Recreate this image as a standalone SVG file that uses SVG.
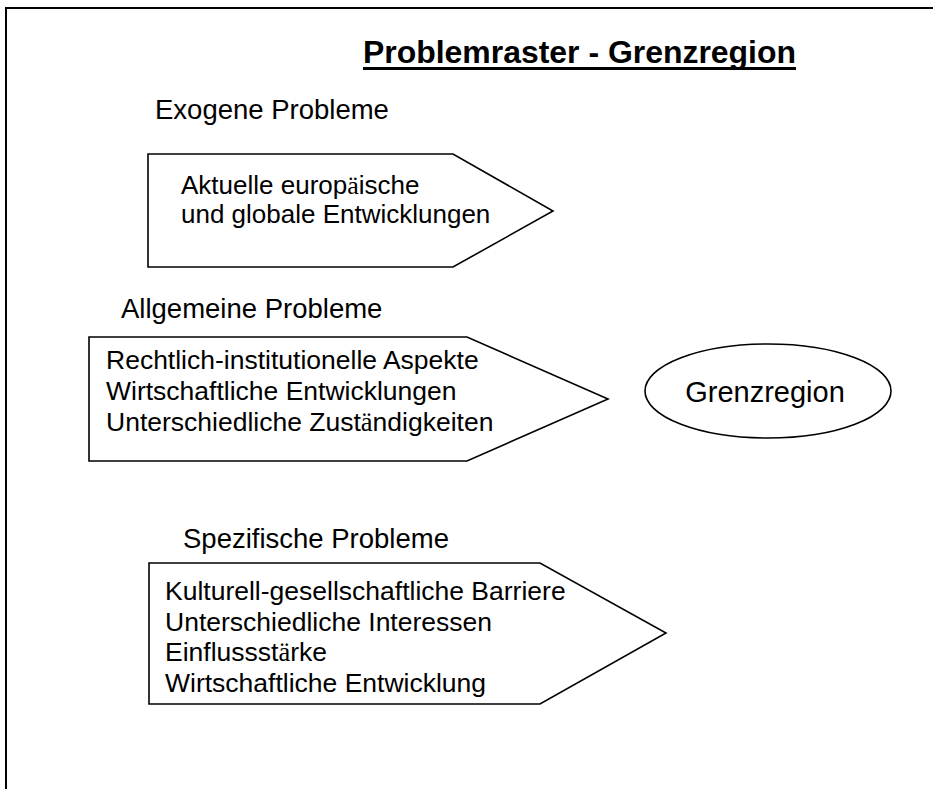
<svg xmlns="http://www.w3.org/2000/svg" width="933" height="789" viewBox="0 0 933 789">
  <style>
    .shape { fill: #ffffff; stroke: #000000; stroke-width: 1.6; }
    .frame { fill: none; stroke: #000000; stroke-width: 2; }
    .head { font-family: "Liberation Sans", Arial, sans-serif; font-size: 27.5px; fill: #000000; }
    .item { font-family: "Liberation Sans", Arial, sans-serif; font-size: 26px; fill: #000000; }
    .item-l { font-family: "Liberation Sans", Arial, sans-serif; font-size: 26.5px; fill: #000000; }
    .title { font-family: "Liberation Sans", Arial, sans-serif; font-size: 32px; font-weight: bold; fill: #000000; }
    .uml { font-family: "Liberation Serif", "Times New Roman", serif; }
  </style>
  <rect width="933" height="789" fill="#ffffff"/>

  <!-- page frame: top and left edges -->
  <path class="frame" d="M6,789 V8 H933"/>

  <!-- title -->
  <g id="title">
    <text class="title" x="363" y="63" textLength="433" lengthAdjust="spacingAndGlyphs">Problemraster - Grenzregion</text>
    <rect x="363" y="67" width="433" height="3" fill="#000000"/>
  </g>

  <!-- exogenous problems -->
  <g id="exogen">
    <text class="head" x="155" y="119">Exogene Probleme</text>
    <polygon class="shape" points="148,154 453,154 553,211 453,267 148,267"/>
    <text class="item" x="181" y="194">Aktuelle europ<tspan class="uml">ä</tspan>ische</text>
    <text class="item" x="181" y="223">und globale Entwicklungen</text>
  </g>

  <!-- general problems -->
  <g id="allgemein">
    <text class="head" x="121" y="318">Allgemeine Probleme</text>
    <polygon class="shape" points="89,337 467,337 608,399 467,461 89,461"/>
    <text class="item-l" x="106" y="369">Rechtlich-institutionelle Aspekte</text>
    <text class="item-l" x="106" y="400">Wirtschaftliche Entwicklungen</text>
    <text class="item-l" x="106" y="431">Unterschiedliche Zust<tspan class="uml">ä</tspan>ndigkeiten</text>
  </g>

  <!-- border region -->
  <g id="grenzregion">
    <ellipse class="shape" cx="768" cy="391" rx="123" ry="47"/>
    <text class="item" x="765" y="402" text-anchor="middle" style="font-size:29px">Grenzregion</text>
  </g>

  <!-- specific problems -->
  <g id="spezifisch">
    <text class="head" x="183" y="548">Spezifische Probleme</text>
    <polygon class="shape" points="149,563 540,563 666,633 540,704 149,704"/>
    <text class="item-l" x="165" y="600">Kulturell-gesellschaftliche Barriere</text>
    <text class="item-l" x="165" y="630.5">Unterschiedliche Interessen</text>
    <text class="item-l" x="165" y="661">Einflussst<tspan class="uml">ä</tspan>rke</text>
    <text class="item-l" x="165" y="691.5">Wirtschaftliche Entwicklung</text>
  </g>

  <g id="connectors"/>
</svg>
